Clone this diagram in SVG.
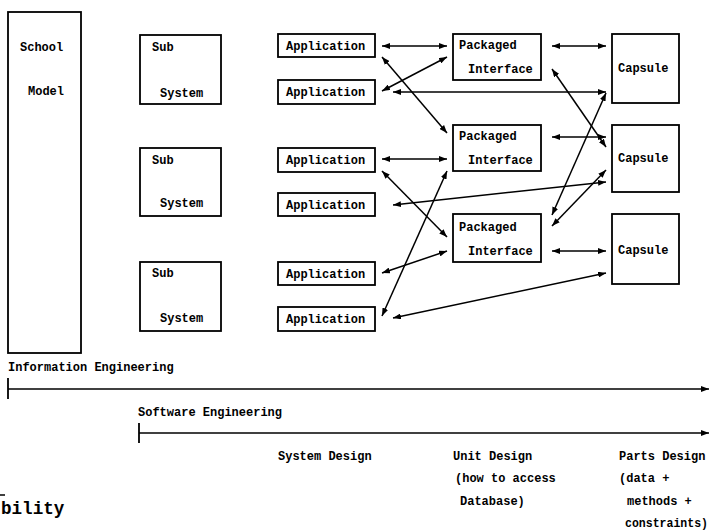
<svg xmlns="http://www.w3.org/2000/svg" width="710" height="530" viewBox="0 0 710 530">
<style>
  .box { fill: #fff; stroke: #000; stroke-width: 1.8; }
  .t { font-family: "Liberation Mono", "DejaVu Sans Mono", monospace; font-size: 12px; font-weight: bold; fill: #000; }
  .c { stroke: #000; stroke-width: 1.5; fill: none; marker-start: url(#ah); marker-end: url(#ah); }
  .r { stroke: #000; stroke-width: 1.5; fill: none; marker-end: url(#ah); }
  .tick { stroke: #000; stroke-width: 1.8; }
</style>
<defs>
  <marker id="ah" viewBox="0 0 8 6" markerWidth="8" markerHeight="6" refX="8" refY="3" orient="auto-start-reverse" markerUnits="userSpaceOnUse">
    <path d="M0,0 L8,3 L0,6 z" fill="#000"/>
  </marker>
</defs>
<rect width="710" height="530" fill="#fff"/>

<g id="school-model">
  <rect class="box" x="8" y="12" width="73" height="341"/>
  <text class="t" x="20" y="51">School</text>
  <text class="t" x="28" y="95">Model</text>
</g>

<g id="subsystem-1">
  <rect class="box" x="140" y="35" width="81" height="69"/>
  <text class="t" x="152" y="51">Sub</text>
  <text class="t" x="160" y="97">System</text>
</g>
<g id="subsystem-2">
  <rect class="box" x="140" y="148" width="81" height="68"/>
  <text class="t" x="152" y="164">Sub</text>
  <text class="t" x="160" y="207">System</text>
</g>
<g id="subsystem-3">
  <rect class="box" x="140" y="262" width="81" height="69"/>
  <text class="t" x="152" y="277">Sub</text>
  <text class="t" x="160" y="322">System</text>
</g>

<g id="app-1"><rect class="box" x="278" y="34" width="97" height="23"/><text class="t" x="286" y="50">Application</text></g>
<g id="app-2"><rect class="box" x="278" y="80" width="97" height="24"/><text class="t" x="286" y="96">Application</text></g>
<g id="app-3"><rect class="box" x="278" y="148" width="97" height="24"/><text class="t" x="286" y="164">Application</text></g>
<g id="app-4"><rect class="box" x="278" y="193" width="97" height="23"/><text class="t" x="286" y="209">Application</text></g>
<g id="app-5"><rect class="box" x="278" y="262" width="97" height="23"/><text class="t" x="286" y="278">Application</text></g>
<g id="app-6"><rect class="box" x="278" y="307" width="97" height="24"/><text class="t" x="286" y="323">Application</text></g>

<g id="pi-1"><rect class="box" x="453" y="34" width="88" height="46"/><text class="t" x="459" y="49">Packaged</text><text class="t" x="468" y="73">Interface</text></g>
<g id="pi-2"><rect class="box" x="453" y="125" width="88" height="46"/><text class="t" x="459" y="140">Packaged</text><text class="t" x="468" y="164">Interface</text></g>
<g id="pi-3"><rect class="box" x="453" y="214" width="88" height="48"/><text class="t" x="459" y="231">Packaged</text><text class="t" x="468" y="255">Interface</text></g>

<g id="capsule-1"><rect class="box" x="612" y="34" width="67" height="69"/><text class="t" x="618" y="72">Capsule</text></g>
<g id="capsule-2"><rect class="box" x="612" y="125" width="67" height="67"/><text class="t" x="618" y="162">Capsule</text></g>
<g id="capsule-3"><rect class="box" x="612" y="214" width="67" height="70"/><text class="t" x="618" y="254">Capsule</text></g>

<g id="connectors">
  <line class="c" x1="382" y1="46" x2="447" y2="46"/>
  <line class="c" x1="552" y1="46" x2="606" y2="46"/>
  <line class="c" x1="382" y1="57" x2="447" y2="133"/>
  <line class="c" x1="382" y1="91" x2="447" y2="57"/>
  <line class="c" x1="393" y1="92" x2="606" y2="92"/>
  <line class="c" x1="552" y1="69" x2="606" y2="147"/>
  <line class="c" x1="382" y1="159" x2="447" y2="159"/>
  <line class="c" x1="552" y1="137" x2="606" y2="137"/>
  <line class="c" x1="382" y1="171" x2="447" y2="237"/>
  <line class="c" x1="393" y1="205" x2="606" y2="182"/>
  <line class="c" x1="552" y1="215" x2="606" y2="93"/>
  <line class="c" x1="552" y1="226" x2="606" y2="170"/>
  <line class="c" x1="552" y1="251" x2="606" y2="251"/>
  <line class="c" x1="382" y1="273" x2="447" y2="251"/>
  <line class="c" x1="382" y1="316" x2="447" y2="171"/>
  <line class="c" x1="393" y1="318" x2="606" y2="273"/>
  <line class="r" x1="8" y1="389" x2="709" y2="389"/>
  <line class="tick" x1="8" y1="378" x2="8" y2="399"/>
  <line class="r" x1="139" y1="433" x2="709" y2="433"/>
  <line class="tick" x1="139" y1="423" x2="139" y2="443"/>
</g>

<g id="labels">
  <text class="t" x="8" y="371">Information Engineering</text>
  <text class="t" x="138" y="416">Software Engineering</text>
  <text class="t" x="278" y="460">System Design</text>
  <text class="t" x="453" y="460">Unit Design</text>
  <text class="t" x="455" y="482">(how to access</text>
  <text class="t" x="460" y="505">Database)</text>
  <text class="t" x="619" y="460">Parts Design</text>
  <text class="t" x="619" y="482">(data +</text>
  <text class="t" x="627" y="505">methods +</text>
  <text class="t" x="625" y="527" textLength="83" lengthAdjust="spacingAndGlyphs">constraints)</text>
  <line x1="0" y1="495" x2="5" y2="495" stroke="#000" stroke-width="1.5"/>
  <text x="1" y="514" style="font-family: 'Liberation Mono', 'DejaVu Sans Mono', monospace; font-size: 17.6px; font-weight: bold; fill: #000;">bility</text>
</g>
</svg>
